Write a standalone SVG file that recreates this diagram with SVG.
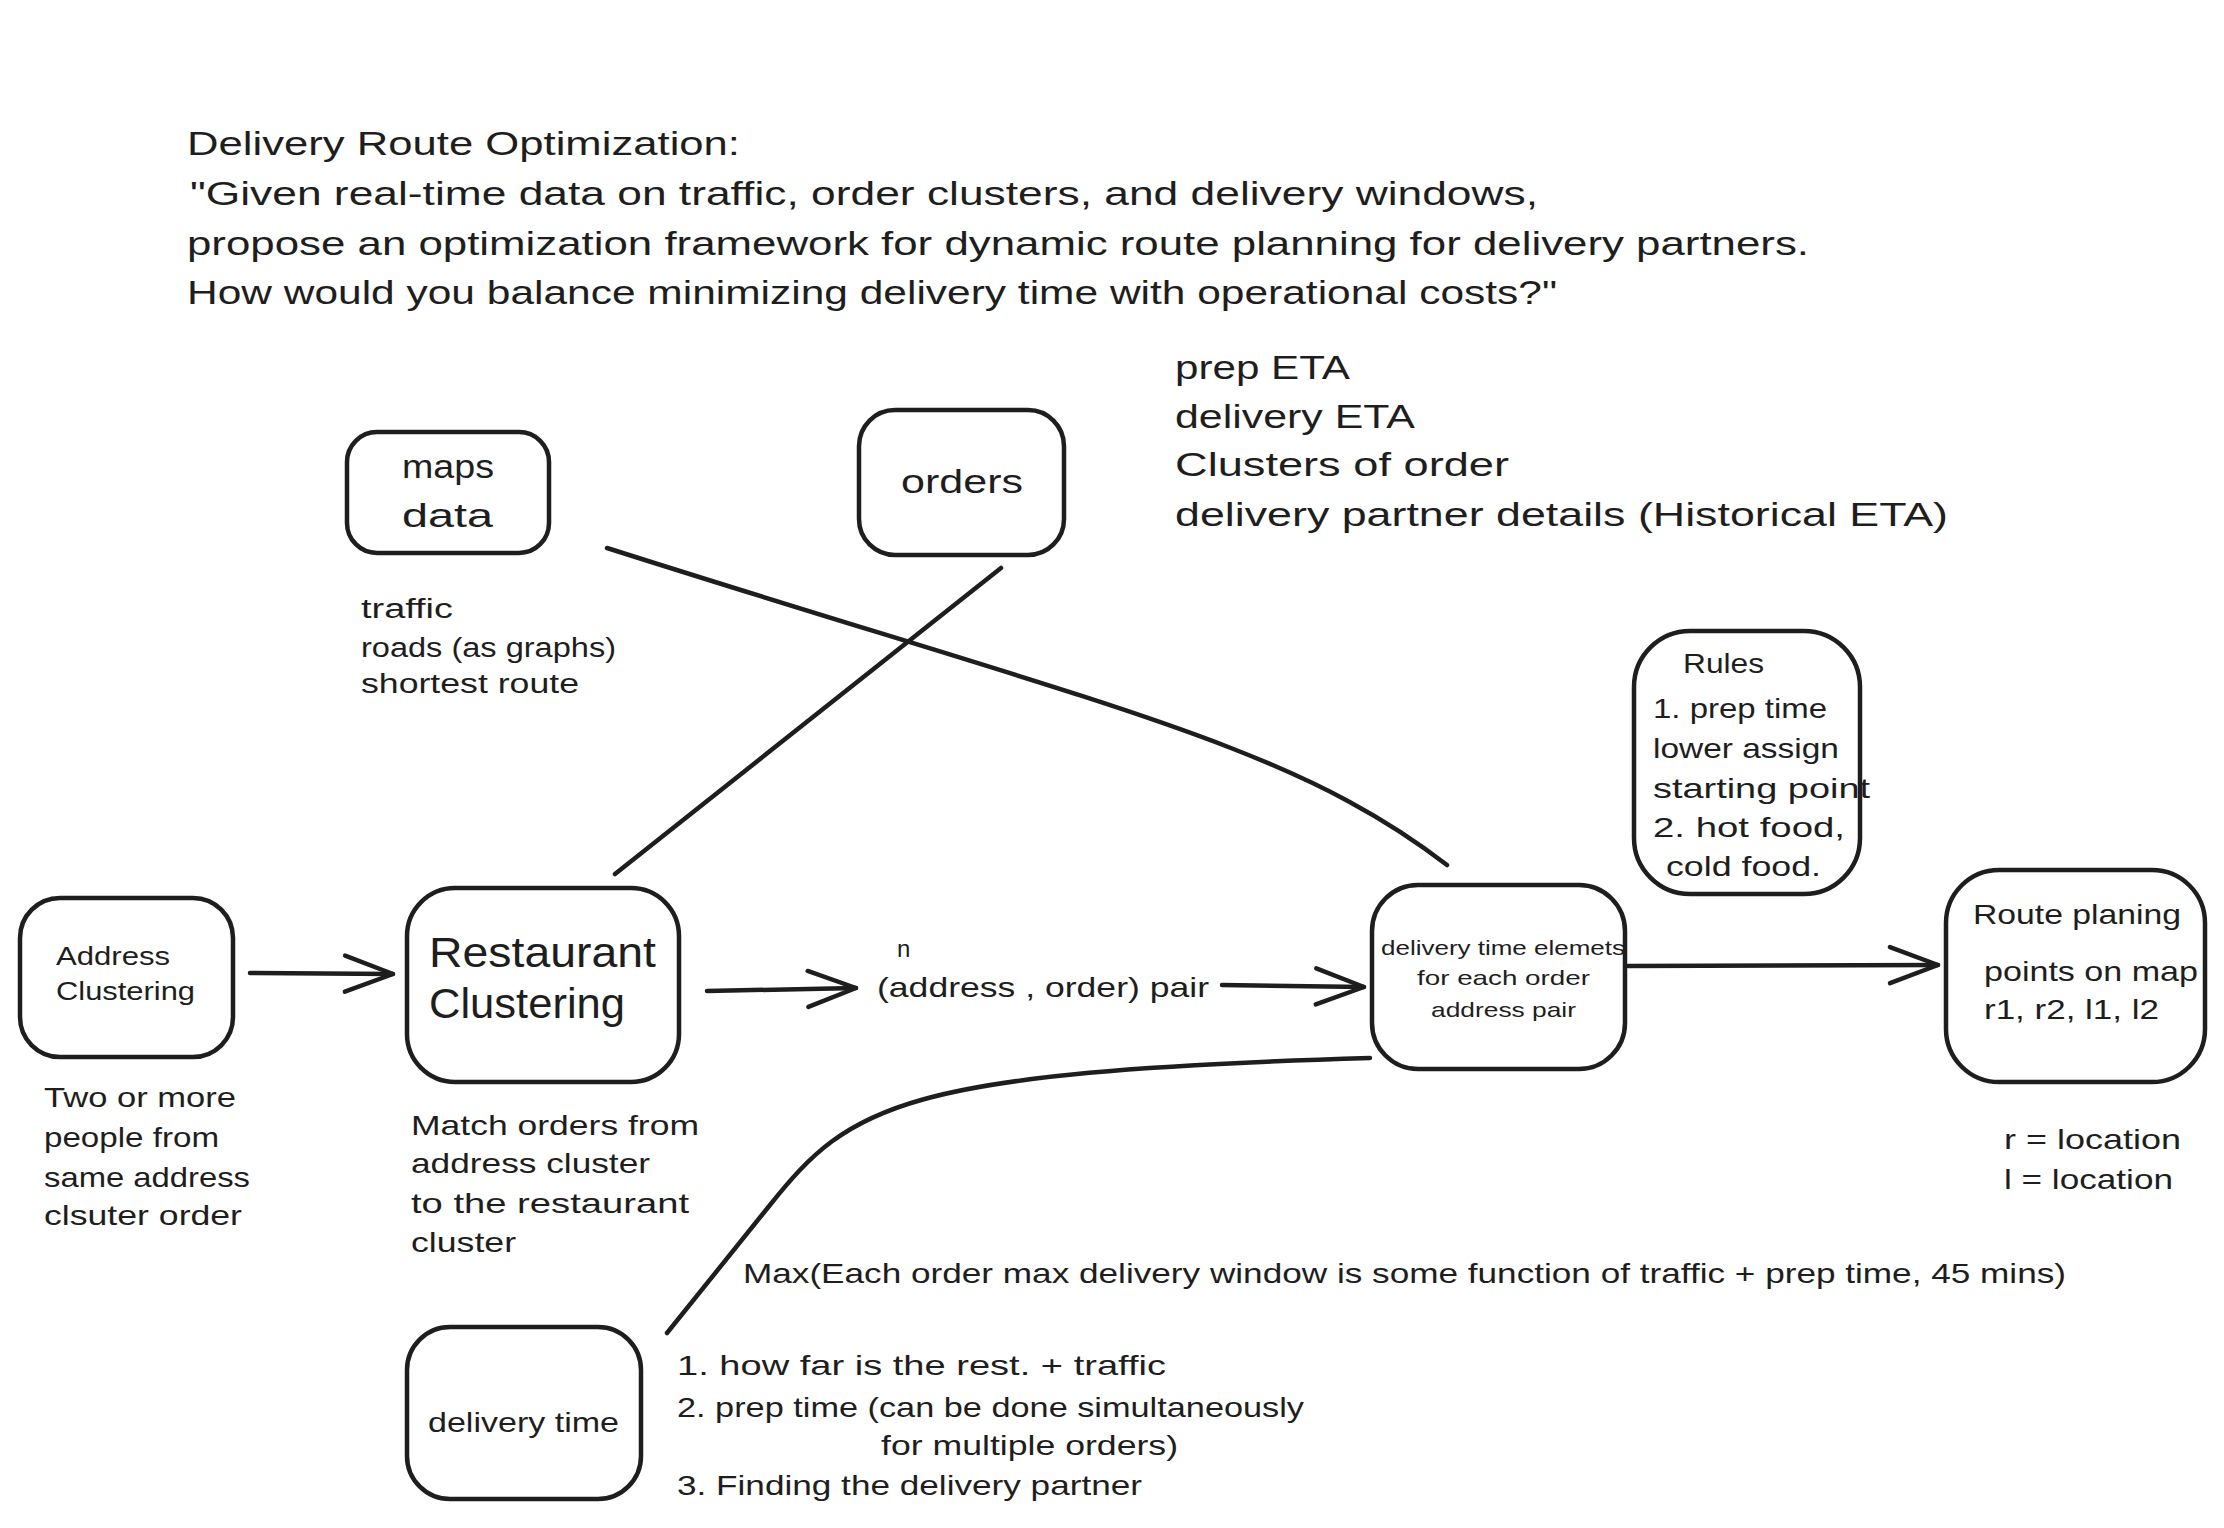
<svg xmlns="http://www.w3.org/2000/svg" width="2224" height="1528" viewBox="0 0 2224 1528">
<defs>
<style>
.box{fill:none;stroke:#1e1e1e;stroke-width:4.5;}
.t{font-family:"Liberation Sans",Arial,sans-serif;fill:#1e1e1e;}
.conn{fill:none;stroke:#1e1e1e;stroke-width:4.5;stroke-linecap:round;stroke-linejoin:round;}
</style>
<marker id="ah" markerWidth="60" markerHeight="44" refX="52" refY="22" orient="auto" markerUnits="userSpaceOnUse" viewBox="0 0 60 44">
<path d="M4,4 L52,22 L4,40" fill="none" stroke="#1e1e1e" stroke-width="4.5" stroke-linecap="round" stroke-linejoin="round"/>
</marker>
</defs>
<rect x="0" y="0" width="2224" height="1528" fill="#ffffff"/>

<g id="title" class="t" font-size="34">
<text x="187" y="155" textLength="553" lengthAdjust="spacingAndGlyphs">Delivery Route Optimization:</text>
<text x="190" y="205" textLength="1348" lengthAdjust="spacingAndGlyphs">"Given real-time data on traffic, order clusters, and delivery windows,</text>
<text x="187" y="255" textLength="1622" lengthAdjust="spacingAndGlyphs">propose an optimization framework for dynamic route planning for delivery partners.</text>
<text x="187" y="304" textLength="1370" lengthAdjust="spacingAndGlyphs">How would you balance minimizing delivery time with operational costs?"</text>
</g>

<g id="inputs-list" class="t" font-size="34">
<text x="1175" y="379" textLength="175" lengthAdjust="spacingAndGlyphs">prep ETA</text>
<text x="1175" y="428" textLength="240" lengthAdjust="spacingAndGlyphs">delivery ETA</text>
<text x="1175" y="476" textLength="334" lengthAdjust="spacingAndGlyphs">Clusters of order</text>
<text x="1175" y="526" textLength="773" lengthAdjust="spacingAndGlyphs">delivery partner details (Historical ETA)</text>
</g>

<g id="connectors">
<path class="conn" d="M1001,568 L615,874"/>
<path class="conn" d="M607,548 C1107,707 1289,743 1447,865"/>
<path class="conn" d="M667,1333 L770,1205 C850,1105 900,1072 1370,1058"/>
<path class="conn" d="M250,973 L393,974" marker-end="url(#ah)"/>
<path class="conn" d="M707,991 L856,988" marker-end="url(#ah)"/>
<path class="conn" d="M1222,985 L1364,987" marker-end="url(#ah)"/>
<path class="conn" d="M1628,966 L1938,965" marker-end="url(#ah)"/>
</g>

<g id="maps-data">
<rect class="box" x="347" y="432" width="202" height="121" rx="30"/>
<text class="t" font-size="34" x="402" y="478" textLength="92" lengthAdjust="spacingAndGlyphs">maps</text>
<text class="t" font-size="34" x="402" y="527" textLength="91" lengthAdjust="spacingAndGlyphs">data</text>
</g>

<g id="maps-notes" class="t" font-size="27">
<text x="361" y="618" textLength="92" lengthAdjust="spacingAndGlyphs">traffic</text>
<text x="361" y="657" textLength="255" lengthAdjust="spacingAndGlyphs">roads (as graphs)</text>
<text x="361" y="693" textLength="218" lengthAdjust="spacingAndGlyphs">shortest route</text>
</g>

<g id="orders">
<rect class="box" x="859" y="410" width="205" height="145" rx="36"/>
<text class="t" font-size="34" x="901" y="493" textLength="122" lengthAdjust="spacingAndGlyphs">orders</text>
</g>

<g id="address-clustering">
<rect class="box" x="20" y="898" width="213" height="159" rx="40"/>
<text class="t" font-size="26" x="56" y="965" textLength="114" lengthAdjust="spacingAndGlyphs">Address</text>
<text class="t" font-size="26" x="56" y="1000" textLength="139" lengthAdjust="spacingAndGlyphs">Clustering</text>
</g>

<g id="address-notes" class="t" font-size="28">
<text x="44" y="1107" textLength="192" lengthAdjust="spacingAndGlyphs">Two or more</text>
<text x="44" y="1147" textLength="175" lengthAdjust="spacingAndGlyphs">people from</text>
<text x="44" y="1187" textLength="206" lengthAdjust="spacingAndGlyphs">same address</text>
<text x="44" y="1225" textLength="198" lengthAdjust="spacingAndGlyphs">clsuter order</text>
</g>

<g id="restaurant-clustering">
<rect class="box" x="407" y="888" width="272" height="194" rx="48"/>
<text class="t" font-size="42" x="429" y="967" textLength="227" lengthAdjust="spacingAndGlyphs">Restaurant</text>
<text class="t" font-size="42" x="429" y="1018" textLength="196" lengthAdjust="spacingAndGlyphs">Clustering</text>
</g>

<g id="restaurant-notes" class="t" font-size="28">
<text x="411" y="1135" textLength="288" lengthAdjust="spacingAndGlyphs">Match orders from</text>
<text x="411" y="1173" textLength="239" lengthAdjust="spacingAndGlyphs">address cluster</text>
<text x="411" y="1213" textLength="278" lengthAdjust="spacingAndGlyphs">to the restaurant</text>
<text x="411" y="1252" textLength="105" lengthAdjust="spacingAndGlyphs">cluster</text>
</g>

<g id="pair-label" class="t">
<text x="897" y="957" font-size="24">n</text>
<text x="877" y="997" font-size="28" textLength="332" lengthAdjust="spacingAndGlyphs">(address , order) pair</text>
</g>

<g id="delivery-elements">
<rect class="box" x="1372" y="885" width="253" height="184" rx="46"/>
<text class="t" font-size="21" x="1381" y="955" textLength="244" lengthAdjust="spacingAndGlyphs">delivery time elemets</text>
<text class="t" font-size="21" x="1417" y="985" textLength="173" lengthAdjust="spacingAndGlyphs">for each order</text>
<text class="t" font-size="21" x="1431" y="1017" textLength="145" lengthAdjust="spacingAndGlyphs">address pair</text>
</g>

<g id="rules">
<rect class="box" x="1634" y="631" width="226" height="263" rx="56"/>
<text class="t" font-size="28" x="1683" y="673" textLength="81" lengthAdjust="spacingAndGlyphs">Rules</text>
<text class="t" font-size="28" x="1653" y="718" textLength="174" lengthAdjust="spacingAndGlyphs">1. prep time</text>
<text class="t" font-size="28" x="1653" y="758" textLength="186" lengthAdjust="spacingAndGlyphs">lower assign</text>
<text class="t" font-size="28" x="1653" y="798" textLength="217" lengthAdjust="spacingAndGlyphs">starting point</text>
<text class="t" font-size="28" x="1653" y="837" textLength="192" lengthAdjust="spacingAndGlyphs">2. hot food,</text>
<text class="t" font-size="28" x="1666" y="876" textLength="155" lengthAdjust="spacingAndGlyphs">cold food.</text>
</g>

<g id="route-planning">
<rect class="box" x="1946" y="870" width="259" height="212" rx="53"/>
<text class="t" font-size="28" x="1973" y="924" textLength="208" lengthAdjust="spacingAndGlyphs">Route planing</text>
<text class="t" font-size="28" x="1984" y="981" textLength="214" lengthAdjust="spacingAndGlyphs">points on map</text>
<text class="t" font-size="28" x="1984" y="1019" textLength="175" lengthAdjust="spacingAndGlyphs">r1, r2, l1, l2</text>
</g>

<g id="route-notes" class="t" font-size="28">
<text x="2004" y="1149" textLength="177" lengthAdjust="spacingAndGlyphs">r = location</text>
<text x="2004" y="1189" textLength="169" lengthAdjust="spacingAndGlyphs">l = location</text>
</g>

<g id="max-note" class="t" font-size="28">
<text x="743" y="1283" textLength="1323" lengthAdjust="spacingAndGlyphs">Max(Each order max delivery window is some function of traffic + prep time, 45 mins)</text>
</g>

<g id="delivery-time">
<rect class="box" x="407" y="1327" width="234" height="172" rx="43"/>
<text class="t" font-size="28" x="428" y="1432" textLength="191" lengthAdjust="spacingAndGlyphs">delivery time</text>
</g>

<g id="delivery-time-notes" class="t" font-size="28">
<text x="677" y="1375" textLength="489" lengthAdjust="spacingAndGlyphs">1. how far is the rest. + traffic</text>
<text x="677" y="1417" textLength="627" lengthAdjust="spacingAndGlyphs">2. prep time (can be done simultaneously</text>
<text x="881" y="1455" textLength="297" lengthAdjust="spacingAndGlyphs">for multiple orders)</text>
<text x="677" y="1495" textLength="465" lengthAdjust="spacingAndGlyphs">3. Finding the delivery partner</text>
</g>
</svg>
